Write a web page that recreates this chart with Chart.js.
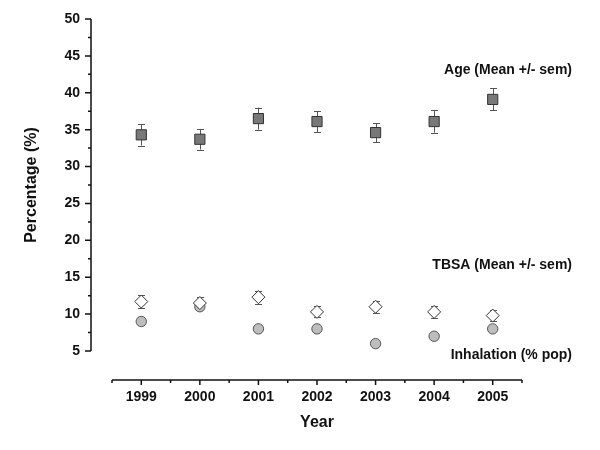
<!DOCTYPE html>
<html>
<head>
<meta charset="utf-8">
<script src="https://cdn.jsdelivr.net/npm/chart.js@4/dist/chart.umd.min.js"></script>
<style>
  html, body { margin: 0; padding: 0; background: #fff; }
  #wrap { width: 600px; height: 450px; }
</style>
</head>
<body>
<div id="wrap"><canvas id="c" width="600" height="450"></canvas></div>
<script>
// ---- data ----
const years = ['1999', '2000', '2001', '2002', '2003', '2004', '2005'];
const ageMean = [34.3, 33.7, 36.5, 36.1, 34.6, 36.1, 39.1];
const ageSem = [1.45, 1.4, 1.5, 1.4, 1.3, 1.5, 1.5];
const tbsaMean = [11.7, 11.5, 12.3, 10.3, 11.0, 10.3, 9.8];
const tbsaSem = [0.9, 0.8, 0.9, 0.75, 0.8, 0.85, 0.8];
const inhalation = [9, 11, 8, 8, 6, 7, 8];
const yTicks = [5, 10, 15, 20, 25, 30, 35, 40, 45, 50];
const seriesLabels = ['Age (Mean +/- sem)', 'TBSA (Mean +/- sem)', 'Inhalation (% pop)'];

const FONT = "'Liberation Sans', Arial, Helvetica, sans-serif";

const errorBars = {
  id: 'errorBars',
  beforeDatasetsDraw(chart) {
    const ctx = chart.ctx;
    const y = chart.scales.y;
    ctx.save();
    ctx.strokeStyle = '#555';
    ctx.lineWidth = 1;
    chart.data.datasets.forEach((ds, di) => {
      if (!ds.sem) return;
      const meta = chart.getDatasetMeta(di);
      meta.data.forEach((pt, i) => {
        const x = Math.round(pt.x) + 0.5;
        const yt = y.getPixelForValue(ds.data[i] + ds.sem[i]);
        const yb = y.getPixelForValue(ds.data[i] - ds.sem[i]);
        ctx.beginPath();
        ctx.moveTo(x, yt); ctx.lineTo(x, yb);
        ctx.moveTo(x - 3.5, Math.round(yt) + 0.5); ctx.lineTo(x + 3.5, Math.round(yt) + 0.5);
        ctx.moveTo(x - 3.5, Math.round(yb) + 0.5); ctx.lineTo(x + 3.5, Math.round(yb) + 0.5);
        ctx.stroke();
      });
    });
    ctx.restore();
  }
};

const axesPlugin = {
  id: 'axesPlugin',
  afterDraw(chart) {
    const ctx = chart.ctx;
    const {left, right, top, bottom} = chart.chartArea;
    const xs = chart.scales.x, ys = chart.scales.y;
    ctx.save();
    ctx.strokeStyle = '#111';
    ctx.lineWidth = 1.5;
    // y axis
    const ax = left - 21;
    ctx.beginPath();
    ctx.moveTo(ax, top); ctx.lineTo(ax, bottom);
    yTicks.forEach(v => {
      const py = ys.getPixelForValue(v);
      ctx.moveTo(ax, py); ctx.lineTo(ax - 6, py);
      if (v < 50) {
        const pm = ys.getPixelForValue(v + 2.5);
        ctx.moveTo(ax, pm); ctx.lineTo(ax - 3, pm);
      }
    });
    ctx.stroke();
    // x axis
    const ay = bottom + 29;
    ctx.beginPath();
    ctx.moveTo(left, ay); ctx.lineTo(right, ay);
    const step = xs.getPixelForValue(1) - xs.getPixelForValue(0);
    years.forEach((yr, i) => {
      const px = xs.getPixelForValue(i);
      ctx.moveTo(px, ay); ctx.lineTo(px, ay + 5);
      ctx.moveTo(px - step / 2, ay); ctx.lineTo(px - step / 2, ay + 3);
      if (i === years.length - 1) { ctx.moveTo(px + step / 2, ay); ctx.lineTo(px + step / 2, ay + 3); }
    });
    ctx.stroke();
    // series labels
    ctx.fillStyle = '#111';
    ctx.font = 'bold 14px ' + FONT;
    ctx.textAlign = 'right';
    ctx.textBaseline = 'middle';
    ctx.fillText(seriesLabels[0], 572, 70);
    ctx.fillText(seriesLabels[1], 572, 265);
    ctx.fillText(seriesLabels[2], 572, 355);
    ctx.restore();
  }
};

new Chart(document.getElementById('c'), {
  type: 'line',
  data: {
    labels: years,
    datasets: [
      {
        label: seriesLabels[0], data: ageMean, sem: ageSem, showLine: false,
        pointStyle: 'rect', pointRadius: 7.2, pointHoverRadius: 7.2,
        backgroundColor: '#787878', borderColor: '#333', pointBorderWidth: 1
      },
      {
        label: seriesLabels[1], data: tbsaMean, sem: tbsaSem, showLine: false,
        pointStyle: 'rectRot', pointRadius: 6.5, pointHoverRadius: 6.5,
        backgroundColor: '#fff', borderColor: '#333', pointBorderWidth: 1
      },
      {
        label: seriesLabels[2], data: inhalation, showLine: false,
        pointStyle: 'circle', pointRadius: 5.2, pointHoverRadius: 5.2,
        backgroundColor: '#bdbdbd', borderColor: '#555', pointBorderWidth: 1
      }
    ]
  },
  options: {
    responsive: false,
    animation: false,
    events: [],
    layout: { padding: { top: 19, right: 78, bottom: 0, left: 0 } },
    plugins: { legend: { display: false }, tooltip: { enabled: false } },
    scales: {
      x: {
        type: 'category',
        offset: true,
        grid: { display: false, drawTicks: false },
        border: { display: false },
        ticks: { color: '#111', font: { family: FONT, size: 14, weight: 'bold' }, padding: 38, maxRotation: 0 },
        title: { display: true, text: 'Year', color: '#111', font: { family: FONT, size: 16, weight: 'bold' }, padding: { top: 0, bottom: 18 } },
        afterFit(s) { s.height = 99; s.paddingLeft = 0; s.paddingRight = 0; }
      },
      y: {
        min: 5, max: 50,
        grid: { display: false, drawTicks: false },
        border: { display: false },
        afterBuildTicks(s) { s.ticks = yTicks.map(v => ({ value: v })); },
        ticks: { color: '#111', font: { family: FONT, size: 14, weight: 'bold' }, padding: 32 },
        title: { display: true, text: 'Percentage (%)', color: '#111', font: { family: FONT, size: 16, weight: 'bold' }, padding: { top: 22, bottom: 0 } },
        afterFit(s) { s.width = 112; s.paddingTop = 0; s.paddingBottom = 0; }
      }
    }
  },
  plugins: [errorBars, axesPlugin]
});
</script>
</body>
</html>
